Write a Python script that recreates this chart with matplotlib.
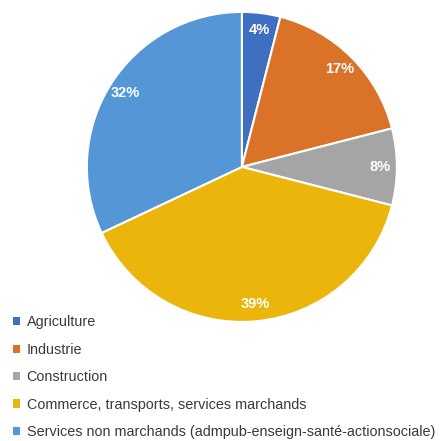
import matplotlib
matplotlib.use("Agg")
import matplotlib.pyplot as plt
from matplotlib.patches import Patch

# employment share by sector
sectors = [
    "Agriculture",
    "Industrie",
    "Construction",
    "Commerce, transports, services marchands",
    "Services non marchands (admpub-enseign-santé-actionsociale)",
]
shares = [4, 17, 8, 39, 32]
colors = ["#3F6FC0", "#DA7228", "#A5A5A5", "#EBB50C", "#5597D6"]

plt.rcParams["font.family"] = ["Liberation Sans", "DejaVu Sans"]
plt.rcParams["font.style"] = "normal"

fig = plt.figure(figsize=(4.43, 4.41), dpi=100)
ax = fig.add_axes([0.196, 0.270, 0.700, 0.703])

wedges, texts, autotexts = ax.pie(
    shares, colors=colors, startangle=90, counterclock=False,
    autopct="%d%%", pctdistance=0.89,
    wedgeprops=dict(edgecolor="white", linewidth=1.5),
    textprops=dict(color="white", fontsize=10.5, fontweight="bold"),
)
ax.set_xlim(-1.0, 1.0)
ax.set_ylim(-1.0, 1.0)
ax.set_aspect("equal")

handles = [Patch(facecolor=c, edgecolor="none") for c in colors]
fig.legend(
    handles, sectors, loc="upper left", bbox_to_anchor=(0.030, 0.285),
    frameon=False, fontsize=10.4, handlelength=0.48, handleheight=0.48,
    handletextpad=0.45, labelspacing=0.93, labelcolor="#3a3a3a",
    borderaxespad=0, borderpad=0,
)

fig.savefig("out.png", dpi=100, facecolor="white")
